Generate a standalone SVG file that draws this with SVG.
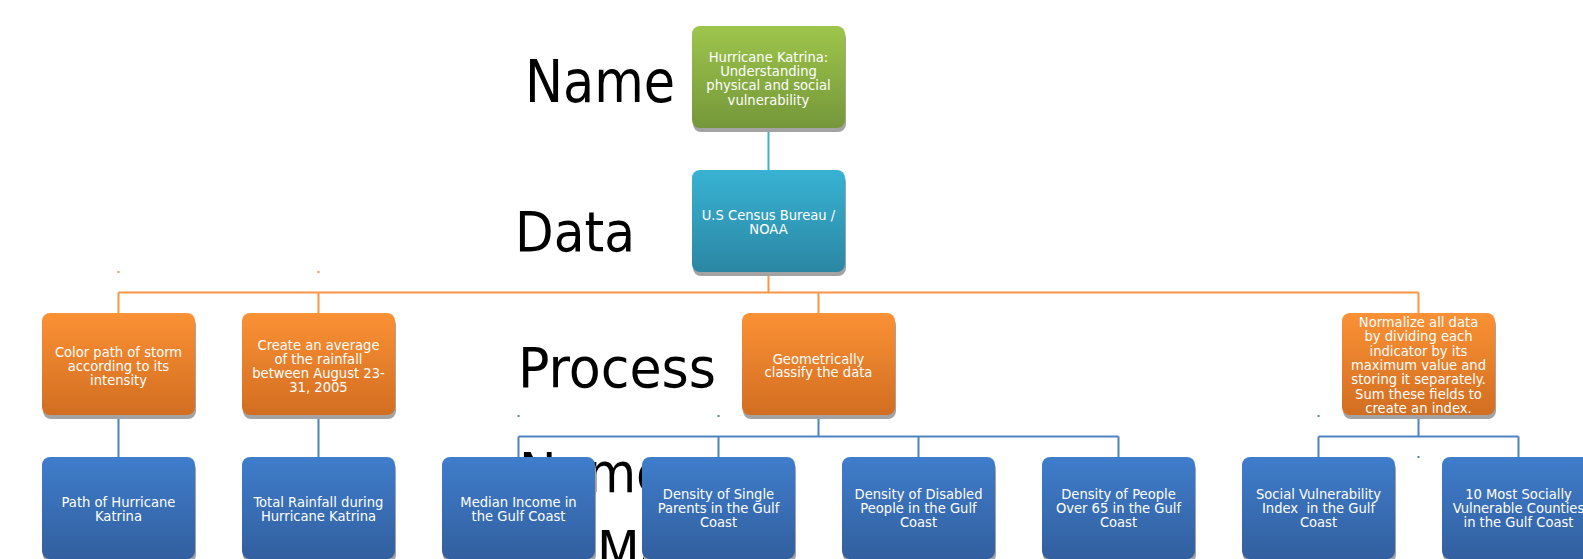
<svg xmlns="http://www.w3.org/2000/svg" width="1583" height="559" viewBox="0 0 1583 559">
<style>
.lbl{font-family:"DejaVu Sans Condensed","DejaVu Sans","Liberation Sans",sans-serif;font-stretch:condensed;fill:#000;}
.t{font-family:"DejaVu Sans Condensed","DejaVu Sans","Liberation Sans",sans-serif;font-stretch:condensed;font-size:14.6px;fill:#fff;text-anchor:middle;}
.sh{fill:#a3a3a3;}
.c{fill:none;stroke-width:2;}
.co{stroke:#f79646;}
.cb{stroke:#4f81bd;}
.ct{stroke:#4bacc6;}
</style>
<defs>
<linearGradient id="gG" x1="0" y1="0" x2="0" y2="1"><stop offset="0" stop-color="#9ec54b"/><stop offset="1" stop-color="#75973a"/></linearGradient>
<linearGradient id="gT" x1="0" y1="0" x2="0" y2="1"><stop offset="0" stop-color="#38b2d3"/><stop offset="1" stop-color="#2b87a4"/></linearGradient>
<linearGradient id="gO" x1="0" y1="0" x2="0" y2="1"><stop offset="0" stop-color="#fb9135"/><stop offset="1" stop-color="#d26e21"/></linearGradient>
<linearGradient id="gB" x1="0" y1="0" x2="0" y2="1"><stop offset="0" stop-color="#3f7dcb"/><stop offset="1" stop-color="#325f9f"/></linearGradient>
</defs>

<g id="labels">
<text class="lbl" x="525" y="101.7" font-size="58" textLength="150" lengthAdjust="spacingAndGlyphs">Name</text>
<text class="lbl" x="515" y="250.7" font-size="56" textLength="120" lengthAdjust="spacingAndGlyphs">Data</text>
<text class="lbl" x="518" y="387.3" font-size="56" textLength="198" lengthAdjust="spacingAndGlyphs">Process</text>
<text class="lbl" x="519" y="491.7" font-size="55" textLength="148" lengthAdjust="spacingAndGlyphs">Name</text>
<text class="lbl" x="597" y="570" font-size="55">Ma</text>
</g>

<g id="connectors">
<path class="c ct" d="M768.5 128V170"/>
<path class="c co" d="M768.5 272V292.5M118.5 292.5H1418.5M118.5 292.5V313M318.5 292.5V313M818.5 292.5V313M1418.5 292.5V313"/>
<path class="c cb" d="M118.5 415V457M318.5 415V457M818.5 415V436.5M518.5 436.5H1118.5M518.5 436.5V457M718.5 436.5V457M918.5 436.5V457M1118.5 436.5V457M1418.5 415V436.5M1318.5 436.5H1518.5M1318.5 436.5V457M1518.5 436.5V457"/>
<path class="c co" stroke-width="1" d="M118.5 271V273M318.5 271V273"/>
<path class="c cb" stroke-width="1" d="M518.5 415V417M718.5 415V417M1318.5 415V417M1418.5 456V458"/>
</g>

<g id="n-name"><rect class="sh" x="693" y="30" width="153" height="102" rx="8"/><rect x="692" y="26" width="153" height="102" rx="8" fill="url(#gG)"/>
<text class="t"><tspan x="768.5" y="62">Hurricane Katrina:</tspan><tspan x="768.5" y="76.2">Understanding</tspan><tspan x="768.5" y="90.4">physical and social</tspan><tspan x="768.5" y="104.6">vulnerability</tspan></text></g>

<g id="n-data"><rect class="sh" x="693" y="174" width="153" height="102" rx="8"/><rect x="692" y="170" width="153" height="102" rx="8" fill="url(#gT)"/>
<text class="t"><tspan x="768.5" y="219.5">U.S Census Bureau /</tspan><tspan x="768.5" y="234">NOAA</tspan></text></g>

<g id="n-p1"><rect class="sh" x="43" y="317" width="153" height="102" rx="8"/><rect x="42" y="313" width="153" height="102" rx="8" fill="url(#gO)"/>
<text class="t"><tspan x="118.5" y="356.5">Color path of storm</tspan><tspan x="118.5" y="370.5">according to its</tspan><tspan x="118.5" y="384.5">intensity</tspan></text></g>

<g id="n-p2"><rect class="sh" x="243" y="317" width="153" height="102" rx="8"/><rect x="242" y="313" width="153" height="102" rx="8" fill="url(#gO)"/>
<text class="t"><tspan x="318.5" y="349.5">Create an average</tspan><tspan x="318.5" y="363.5">of the rainfall</tspan><tspan x="318.5" y="377.5">between August 23-</tspan><tspan x="318.5" y="391.5">31, 2005</tspan></text></g>

<g id="n-p3"><rect class="sh" x="743" y="317" width="153" height="102" rx="8"/><rect x="742" y="313" width="153" height="102" rx="8" fill="url(#gO)"/>
<text class="t"><tspan x="818.5" y="363.5">Geometrically</tspan><tspan x="818.5" y="376.5">classify the data</tspan></text></g>

<g id="n-p4"><rect class="sh" x="1343" y="317" width="153" height="102" rx="8"/><rect x="1342" y="313" width="153" height="102" rx="8" fill="url(#gO)"/>
<text class="t"><tspan x="1418.5" y="327">Normalize all data</tspan><tspan x="1418.5" y="341.3">by dividing each</tspan><tspan x="1418.5" y="355.6">indicator by its</tspan><tspan x="1418.5" y="369.9">maximum value and</tspan><tspan x="1418.5" y="384.2">storing it separately.</tspan><tspan x="1418.5" y="398.5">Sum these fields to</tspan><tspan x="1418.5" y="412.8">create an index.</tspan></text></g>

<g id="n-o1"><rect class="sh" x="43" y="461" width="153" height="102" rx="8"/><rect x="42" y="457" width="153" height="102" rx="8" fill="url(#gB)"/>
<text class="t"><tspan x="118.5" y="507">Path of Hurricane</tspan><tspan x="118.5" y="521">Katrina</tspan></text></g>

<g id="n-o2"><rect class="sh" x="243" y="461" width="153" height="102" rx="8"/><rect x="242" y="457" width="153" height="102" rx="8" fill="url(#gB)"/>
<text class="t"><tspan x="318.5" y="507">Total Rainfall during</tspan><tspan x="318.5" y="521">Hurricane Katrina</tspan></text></g>

<g id="n-o3"><rect class="sh" x="443" y="461" width="153" height="102" rx="8"/><rect x="442" y="457" width="153" height="102" rx="8" fill="url(#gB)"/>
<text class="t"><tspan x="518.5" y="507">Median Income in</tspan><tspan x="518.5" y="521">the Gulf Coast</tspan></text></g>

<g id="n-o4"><rect class="sh" x="643" y="461" width="153" height="102" rx="8"/><rect x="642" y="457" width="153" height="102" rx="8" fill="url(#gB)"/>
<text class="t"><tspan x="718.5" y="499">Density of Single</tspan><tspan x="718.5" y="513.2">Parents in the Gulf</tspan><tspan x="718.5" y="527.4">Coast</tspan></text></g>

<g id="n-o5"><rect class="sh" x="843" y="461" width="153" height="102" rx="8"/><rect x="842" y="457" width="153" height="102" rx="8" fill="url(#gB)"/>
<text class="t"><tspan x="918.5" y="499">Density of Disabled</tspan><tspan x="918.5" y="513.2">People in the Gulf</tspan><tspan x="918.5" y="527.4">Coast</tspan></text></g>

<g id="n-o6"><rect class="sh" x="1043" y="461" width="153" height="102" rx="8"/><rect x="1042" y="457" width="153" height="102" rx="8" fill="url(#gB)"/>
<text class="t"><tspan x="1118.5" y="499">Density of People</tspan><tspan x="1118.5" y="513.2">Over 65 in the Gulf</tspan><tspan x="1118.5" y="527.4">Coast</tspan></text></g>

<g id="n-o7"><rect class="sh" x="1243" y="461" width="153" height="102" rx="8"/><rect x="1242" y="457" width="153" height="102" rx="8" fill="url(#gB)"/>
<text class="t" style="white-space:pre"><tspan x="1318.5" y="499">Social Vulnerability</tspan><tspan x="1318.5" y="513.2">Index  in the Gulf</tspan><tspan x="1318.5" y="527.4">Coast</tspan></text></g>

<g id="n-o8"><rect class="sh" x="1443" y="461" width="153" height="102" rx="8"/><rect x="1442" y="457" width="153" height="102" rx="8" fill="url(#gB)"/>
<text class="t"><tspan x="1518.5" y="499">10 Most Socially</tspan><tspan x="1518.5" y="513.2">Vulnerable Counties</tspan><tspan x="1518.5" y="527.4">in the Gulf Coast</tspan></text></g>
</svg>
